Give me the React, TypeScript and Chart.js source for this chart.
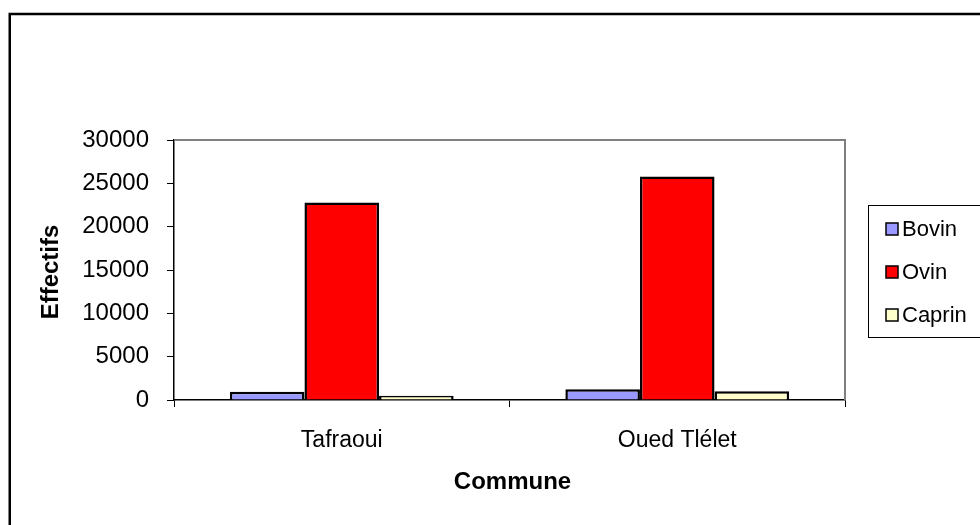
import React, { useEffect, useRef } from "react";
import { Chart, registerables } from "chart.js";

Chart.register(...registerables);

const communes = ["Tafraoui", "Oued Tlélet"];
const bovin = [950, 1250];
const ovin = [22800, 25800];
const caprin = [500, 1000];
const seriesNames = ["Bovin", "Ovin", "Caprin"];
const seriesColors = ["#9999FF", "#FF0000", "#FFFFCC"];
const yTitle = "Effectifs";
const xTitle = "Commune";

const FONT = "'Liberation Sans', Arial, sans-serif";

const decorations = {
  id: "decorations",
  beforeDraw(chart: any) {
    const { ctx, width, height } = chart;
    ctx.save();
    ctx.fillStyle = "#ffffff";
    ctx.fillRect(0, 0, width, height);
    // outer chart frame (runs past the right and bottom edges)
    ctx.strokeStyle = "#000000";
    ctx.lineWidth = 2.5;
    ctx.strokeRect(9.75, 14, width + 20, height + 20);
    ctx.restore();
  },
  beforeDatasetsDraw(chart: any) {
    const { ctx, chartArea } = chart;
    const { left, right, top, bottom } = chartArea;
    ctx.save();
    ctx.strokeStyle = "#808080";
    ctx.lineWidth = 2;
    ctx.beginPath();
    ctx.moveTo(left, top);
    ctx.lineTo(right, top);
    ctx.lineTo(right, bottom);
    ctx.stroke();
    ctx.restore();
  },
  afterDraw(chart: any) {
    const { ctx, chartArea } = chart;
    ctx.save();
    ctx.fillStyle = "#000000";
    ctx.font = `bold 24px ${FONT}`;
    ctx.textAlign = "center";
    ctx.textBaseline = "middle";
    // y axis title
    ctx.save();
    ctx.translate(51, (chartArea.top + chartArea.bottom) / 2 + 2);
    ctx.rotate(-Math.PI / 2);
    ctx.fillText(yTitle, 0, 0);
    ctx.restore();
    // x axis title
    ctx.fillText(xTitle, (chartArea.left + chartArea.right) / 2 + 3, 482);

    // legend
    const lx = 868;
    const ly = 205;
    ctx.strokeStyle = "#000000";
    ctx.lineWidth = 1;
    ctx.fillStyle = "#ffffff";
    ctx.fillRect(lx, ly, 200, 132);
    ctx.strokeRect(lx + 0.5, ly + 0.5, 200, 132);
    ctx.font = `22px ${FONT}`;
    ctx.textAlign = "left";
    ctx.textBaseline = "middle";
    seriesNames.forEach((name, i) => {
      const cy = 229 + i * 43;
      ctx.fillStyle = seriesColors[i];
      ctx.fillRect(886, cy - 6, 12, 12);
      ctx.lineWidth = 1.5;
      ctx.strokeStyle = "#000000";
      ctx.strokeRect(886, cy - 6, 12, 12);
      ctx.fillStyle = "#000000";
      ctx.fillText(name, 902, cy + 1);
    });
    ctx.restore();
  },
};

export default function App() {
  const canvasRef = useRef<HTMLCanvasElement | null>(null);

  useEffect(() => {
    document.body.style.margin = "0";
    const canvas = canvasRef.current;
    if (!canvas) return;
    const values = [bovin, ovin, caprin];
    const chart = new Chart(canvas, {
      type: "bar",
      data: {
        labels: communes,
        datasets: seriesNames.map((name, i) => ({
          label: name,
          data: values[i],
          backgroundColor: seriesColors[i],
          borderColor: "#000000",
          borderWidth: 2.5,
          categoryPercentage: 0.667,
          barPercentage: 1,
        })),
      },
      options: {
        responsive: false,
        animation: false,
        devicePixelRatio: 1,
        layout: { padding: { left: 0, top: 140, right: 135, bottom: 0 } },
        plugins: {
          legend: { display: false },
          tooltip: { enabled: false },
        },
        scales: {
          x: {
            grid: {
              display: true,
              drawOnChartArea: false,
              drawTicks: true,
              tickLength: 7,
              color: "#000000",
              offset: true,
            },
            border: { display: true, color: "#000000", width: 1.5 },
            ticks: {
              color: "#000000",
              font: { family: FONT, size: 23 },
              padding: 20,
            },
            afterFit(scale: any) {
              scale.height = 125;
            },
          },
          y: {
            min: 0,
            max: 30000,
            grid: {
              display: true,
              drawOnChartArea: false,
              drawTicks: true,
              tickLength: 7,
              color: "#000000",
            },
            border: { display: true, color: "#000000", width: 1.5 },
            ticks: {
              stepSize: 5000,
              color: "#000000",
              font: { family: FONT, size: 24 },
              padding: 18,
              callback: (v: any) => String(v),
            },
            afterFit(scale: any) {
              scale.width = 174;
            },
          },
        },
      },
      plugins: [decorations],
    });
    return () => chart.destroy();
  }, []);

  return (
    <div style={{ width: 980, height: 525 }}>
      <canvas ref={canvasRef} width={980} height={525} />
    </div>
  );
}
